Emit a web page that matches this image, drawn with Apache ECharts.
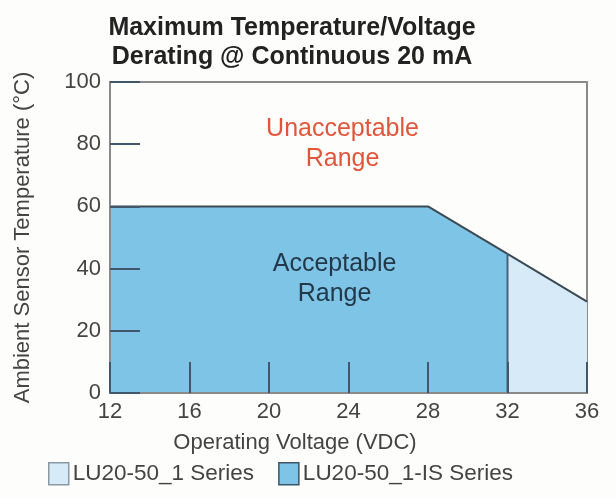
<!DOCTYPE html>
<html>
<head>
<meta charset="utf-8">
<script src="https://cdn.jsdelivr.net/npm/echarts@6/dist/echarts.min.js"></script>
<style>
  html, body { margin: 0; padding: 0; background: #fdfdfb; }
  #chart { width: 616px; height: 498px; }
</style>
</head>
<body>
<div id="chart"></div>
<script>
// derating curve
var voltageIS = [12, 28, 32];
var tempIS = [60, 60, 44.7];
var voltageStd = [32, 36];
var tempStd = [44.7, 29.4];

var seriesNames = ['LU20-50_1 Series', 'LU20-50_1-IS Series'];
var regionText = ['Unacceptable\nRange', 'Acceptable\nRange'];
var regionX = [23.7, 23.3];
var regionY = [80.0, 36.6];

var font = 'Liberation Sans, Arial, sans-serif';
var lineColor = '#3b4b56';
var tickColor = '#41576a';
var darkFill = '#7ec4e6';
var lightFill = '#d6ebf7';

function pairs(xs, ys) {
    var out = [];
    for (var i = 0; i < xs.length; i++) out.push([xs[i], ys[i]]);
    return out;
}

var myChart = echarts.init(document.getElementById('chart'));

var option = {
    backgroundColor: '#fdfdfb',
    animation: false,
    title: [{
        text: 'Maximum Temperature/Voltage\nDerating @ Continuous 20 mA',
        left: 287,
        top: 9,
        textAlign: 'center',
        textStyle: {
            fontFamily: font,
            fontSize: 25,
            fontWeight: 'bold',
            color: '#222',
            lineHeight: 29
        }
    }, {
        text: 'Operating Voltage (VDC)',
        left: 290,
        top: 427,
        textAlign: 'center',
        textStyle: {
            fontFamily: font,
            fontSize: 22,
            fontWeight: 'normal',
            color: '#444'
        }
    }],
    legend: {
        data: [
            {name: seriesNames[0], itemStyle: {color: lightFill, borderColor: '#8a9aa4', borderWidth: 1.5}},
            {name: seriesNames[1], itemStyle: {color: darkFill, borderColor: '#3d5566', borderWidth: 1.5}}
        ],
        icon: 'rect',
        left: 43,
        top: 457,
        itemWidth: 20,
        itemHeight: 22,
        itemGap: 24,
        textStyle: {fontFamily: font, fontSize: 22.5, color: '#444', padding: [0, 0, 0, -1]}
    },
    grid: {
        left: 110,
        right: 29,
        top: 82,
        bottom: 105,
        show: true,
        borderColor: '#8a8a8a',
        borderWidth: 2,
        backgroundColor: 'transparent'
    },
    xAxis: {
        type: 'value',
        min: 12,
        max: 36,
        interval: 4,
        z: 5,
        splitLine: {show: false},
        axisLine: {lineStyle: {color: '#8a8a8a', width: 2}},
        axisTick: {inside: true, length: 31, lineStyle: {color: tickColor, width: 2}},
        axisLabel: {fontFamily: font, fontSize: 22, color: '#444', margin: 8}
    },
    yAxis: {
        type: 'value',
        min: 0,
        max: 100,
        interval: 20,
        z: 5,
        name: 'Ambient Sensor Temperature (\u00b0C)',
        nameLocation: 'middle',
        nameGap: 76,
        nameTextStyle: {fontFamily: font, fontSize: 22, color: '#444'},
        splitLine: {show: false},
        axisLine: {lineStyle: {color: '#8a8a8a', width: 2}},
        axisTick: {inside: true, length: 30, lineStyle: {color: tickColor, width: 2}},
        axisLabel: {fontFamily: font, fontSize: 22, color: '#444', margin: 9}
    },
    series: [{
        name: seriesNames[1],
        type: 'line',
        data: pairs(voltageIS, tempIS),
        showSymbol: false,
        color: darkFill,
        lineStyle: {color: lineColor, width: 2},
        areaStyle: {color: darkFill, opacity: 1},
        z: 1,
        markPoint: {
            symbol: 'circle',
            symbolSize: 0,
            data: [{
                coord: [regionX[0], regionY[0]],
                label: {show: true, formatter: regionText[0], fontFamily: font, fontSize: 25,
                        color: '#e2553a', lineHeight: 30, align: 'center'}
            }, {
                coord: [regionX[1], regionY[1]],
                label: {show: true, formatter: regionText[1], fontFamily: font, fontSize: 25,
                        color: '#23394a', lineHeight: 30, align: 'center'}
            }]
        }
    }, {
        name: seriesNames[0],
        type: 'line',
        data: pairs(voltageStd, tempStd),
        showSymbol: false,
        color: lightFill,
        lineStyle: {color: lineColor, width: 2},
        areaStyle: {color: lightFill, opacity: 1},
        z: 1
    }, {
        name: 'divider',
        type: 'line',
        data: [[voltageStd[0], 0], [voltageStd[0], tempStd[0]]],
        showSymbol: false,
        lineStyle: {color: '#44607a', width: 2},
        z: 3
    }]
};

myChart.setOption(option);
</script>
</body>
</html>
